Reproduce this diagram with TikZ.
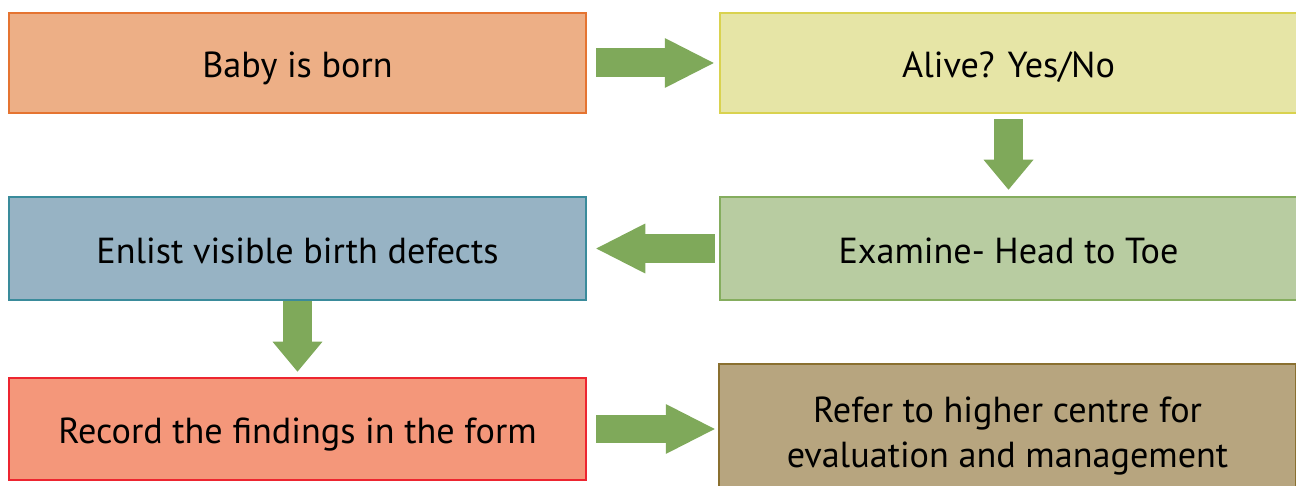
\documentclass[tikz,border=0pt]{standalone}
\usepackage{fontspec}
\setmainfont{PT Sans}
\usetikzlibrary{arrows.meta}

\definecolor{bornfill}{HTML}{EDAF86}
\definecolor{bornline}{HTML}{E57431}
\definecolor{alivefill}{HTML}{E6E5A6}
\definecolor{aliveline}{HTML}{D9D24F}
\definecolor{examfill}{HTML}{B8CCA1}
\definecolor{examline}{HTML}{85AD5E}
\definecolor{enlistfill}{HTML}{97B3C4}
\definecolor{enlistline}{HTML}{3A8B9B}
\definecolor{recordfill}{HTML}{F4977A}
\definecolor{recordline}{HTML}{ED2530}
\definecolor{referfill}{HTML}{B7A57F}
\definecolor{referline}{HTML}{8A7030}
\definecolor{flowgreen}{HTML}{7FA95A}

\begin{document}
\begin{tikzpicture}[x=0.02cm,y=-0.02cm,
  box/.style={draw, line width=1.5pt, minimum width=11.54cm, minimum height=2cm,
    align=center, text depth=0pt, font=\fontsize{20.6}{25.5}\selectfont},
  oneline/.style={box, text height=17pt},
  flow/.style={draw=flowgreen, line width=0.58cm,
    -{Triangle[length=0.98cm,width=1cm,line width=0pt]}},
  flowdown/.style={flow, -{Triangle[length=0.6cm,width=1cm,line width=0pt]}}
]
\useasboundingbox (0,0) rectangle (1296,486);
\clip (0,0) rectangle (1296,486);

% Steps
\node[oneline, fill=bornfill, draw=bornline] (born) at (297.5,63) {Baby is born};
\node[oneline, fill=alivefill, draw=aliveline] (alive) at (1008.5,63) {Alive? Yes/No};
\node[oneline, fill=examfill, draw=examline, minimum height=2.06cm] (exam) at (1008.5,248.5) {Examine- Head to Toe};
\node[oneline, fill=enlistfill, draw=enlistline, minimum height=2.06cm] (enlist) at (297.5,248.5) {Enlist visible birth defects};
\node[oneline, fill=recordfill, draw=recordline, minimum height=2.04cm] (record) at (297.5,429) {Record the findings in the form};
\node[box, fill=referfill, draw=referline, minimum height=2.72cm] (refer) at (1007.5,432) {Refer to higher centre for\\evaluation and management};

% Block arrows
\draw[flow, shorten <=0.18cm, shorten >=0.1cm] (born.east) -- (alive.west);
\draw[flowdown, shorten <=0.1cm, shorten >=0.12cm] (alive.south) -- (exam.north);
\draw[flow, shorten <=0.08cm, shorten >=0.18cm] (exam.west) -- (enlist.east);
\draw[flowdown, shorten >=0.1cm] (enlist.south) -- (record.north);
\draw[flow, shorten <=0.18cm, shorten >=0.06cm] (record.east) -- (record.east -| refer.west);
\end{tikzpicture}
\end{document}
